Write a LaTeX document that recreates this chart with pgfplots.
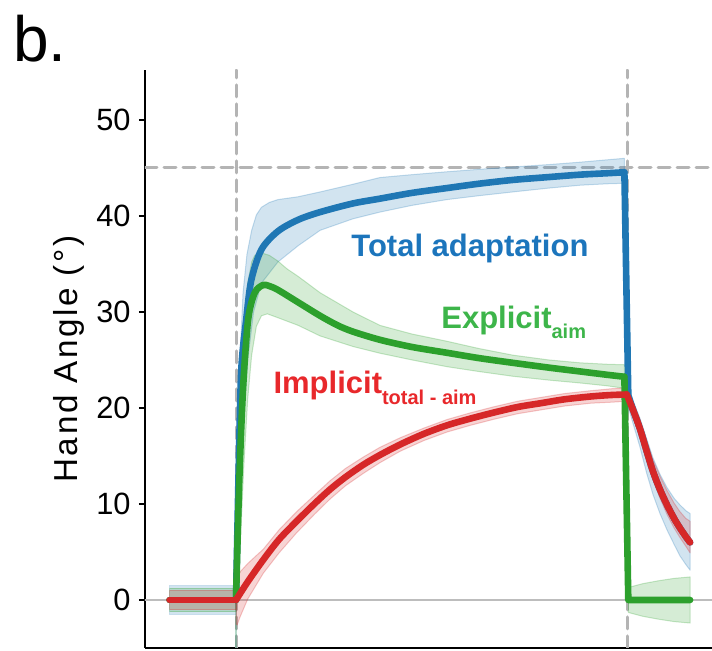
\documentclass[border=0pt]{standalone}
\usepackage{pgfplots}
\pgfplotsset{compat=1.18}
\usepackage{fontspec}
\setmainfont{Liberation Sans}
\definecolor{cblue}{HTML}{1F77B4}
\definecolor{cgreen}{HTML}{2CA02C}
\definecolor{cred}{HTML}{D62728}
\definecolor{tblue}{HTML}{1C75BC}
\definecolor{tgreen}{HTML}{3DB54A}
\definecolor{tred}{HTML}{E8282B}
\definecolor{dgray}{HTML}{B4B4B4}
\definecolor{zgray}{HTML}{BDBDBD}
\begin{document}
\begin{tikzpicture}
\begin{axis}[
  at={(72.5pt,1.5pt)}, anchor=south west,
  scale only axis, width=283.5pt, height=289pt,
  xmin=-23.27, xmax=121.7, ymin=-5, ymax=55.2,
  axis x line=bottom, axis y line=left,
  axis line style={-, line width=1.25pt, black},
  xtick=\empty,
  ytick={0,10,20,30,40,50},
  tick align=outside, major tick length=3pt,
  every tick/.style={black, line width=0.75pt},
  tick label style={font=\fontsize{15.4}{18}\selectfont},
  /pgf/number format/assume math mode=true,
  yticklabel style={inner sep=0pt, xshift=-4pt},
  every axis y label/.style={at={(axis description cs:0,0.5)}, rotate=90, anchor=center, yshift=38pt},
  ylabel={\addfontfeature{LetterSpace=8}Hand Angle (°)},
  ylabel style={font=\fontsize{16.6}{19}\selectfont},
  clip=true,
]
% reference lines
\addplot[zgray, line width=1.4pt] coordinates {(-23.27,0) (121.7,0)};
\addplot[dgray, line width=1.5pt, dash pattern=on 6pt off 3.5pt] coordinates {(0,-5) (0,55.2)};
\addplot[dgray, line width=1.5pt, dash pattern=on 6pt off 3.5pt] coordinates {(100,-5) (100,55.2)};
\addplot[dgray, line width=1.5pt, dash pattern=on 6pt off 3.5pt] coordinates {(-23.27,45) (121.7,45)};

% ---- bands: total (blue)
\addplot[fill=cblue, fill opacity=0.2, draw=cblue, draw opacity=0.25, line width=0.5pt] coordinates {
(-17,1.5) (0,1.5) (0,-1.5) (-17,-1.5)} -- cycle;
\addplot[fill=cblue, fill opacity=0.2, draw=cblue, draw opacity=0.25, line width=0.5pt] coordinates {
(0,0) (0.5,14) (1,25) (1.8,32) (2.8,36) (4,38.5) (5.2,40.1) (6.5,40.9) (8.5,41.4) (10.7,41.7) (15.9,42.0) (21.5,42.5) (29.9,43.3) (36.8,44.0) (45,44.3) (53.9,44.6) (62,44.85) (70.8,45.1) (80,45.35) (88,45.6) (95,45.85) (99.3,46.0)
(99.3,43.4) (95,43.35) (88,43.2) (80,42.9) (70.8,42.5) (62,42.1) (53.9,41.7) (45,41.1) (36.8,40.4) (29.9,39.7) (21.5,38.5) (15.9,36.9) (10.7,35.2) (6.5,33) (4.5,30) (3,25) (2,19) (1,9) (0.4,3) (0,0)} -- cycle;
\addplot[fill=cblue, fill opacity=0.2, draw=cblue, draw opacity=0.25, line width=0.5pt] coordinates {
(100.3,22.3) (101.5,20.8) (103.3,18.9) (105,16.8) (106.6,14.8) (108.4,13.1) (110.2,11.7) (112,10.6) (113.5,9.9) (115,9.3) (116.1,9.0)
(116.1,3.1) (115,3.7) (113.5,4.6) (112,5.8) (110.2,7.3) (108.4,9.0) (106.6,11.0) (105,13.2) (103.3,15.9) (101.5,18.4) (100.3,20.1)} -- cycle;

% ---- bands: explicit (green)
\addplot[fill=cgreen, fill opacity=0.2, draw=cgreen, draw opacity=0.25, line width=0.5pt] coordinates {
(-17,1.2) (0,1.2) (0,-1.2) (-17,-1.2)} -- cycle;
\addplot[fill=cgreen!60!cblue, fill opacity=0.35, draw=none] coordinates {
(-0.2,0) (0.35,0) (0.35,-5.5) (-0.2,-5.5)} -- cycle;
\addplot[fill=cgreen, fill opacity=0.2, draw=cgreen, draw opacity=0.25, line width=0.5pt] coordinates {
(0,0) (0.6,12) (1.2,22) (2,29) (3,33) (4,35.2) (4.8,35.9) (6.9,36.1) (8.5,35.9) (10.7,35.3) (13,34.5) (15.9,33.7) (21.5,32.0) (29.9,30.0) (36.8,28.6) (45,27.7) (53.9,26.95) (62,26.2) (70.8,25.5) (80,25.0) (88,24.7) (95,24.55) (99.3,24.5)
(99.3,22.05) (95,22.3) (88,22.6) (80,22.9) (70.8,23.3) (62,23.8) (53.9,24.3) (45,25.0) (36.8,25.7) (29.9,26.4) (21.5,27.5) (15.9,28.6) (10.7,29.4) (8,29.8) (6.5,29.6) (5.2,28.5) (4,25.5) (3,21) (2,14) (1,5) (0,0)} -- cycle;
\addplot[fill=cgreen, fill opacity=0.2, draw=cgreen, draw opacity=0.25, line width=0.5pt] coordinates {
(100.3,1.3) (104,1.7) (108,2.0) (112,2.25) (116.1,2.4)
(116.1,-2.4) (112,-2.25) (108,-2.0) (104,-1.7) (100.3,-1.3)} -- cycle;

% ---- bands: implicit (red)
\addplot[fill=cred, fill opacity=0.2, draw=cred, draw opacity=0.25, line width=0.5pt] coordinates {
(-17,1.0) (0,1.0) (0,-1.0) (-17,-1.0)} -- cycle;
\addplot[fill=cred, fill opacity=0.2, draw=cred, draw opacity=0.25, line width=0.5pt] coordinates {
(0,0) (0.3,2.0) (1,2.9) (3,3.8) (7,5.3) (11,7.3) (15.5,9.2) (20,10.9) (24,12.4) (28,13.7) (32.6,14.9) (36.8,15.9) (42,16.9) (48,17.9) (54,18.8) (60,19.5) (65.7,20.1) (72,20.7) (78,21.1) (84,21.5) (90.8,21.8) (96,22.0) (99.9,22.1)
(101.5,20.6) (103.3,18.8) (105,16.6) (106.6,14.6) (108.4,12.9) (110.2,11.4) (112,10.1) (113.5,9.2) (115,8.5) (116.1,8.2)
(116.1,4.9) (115,5.6) (113.5,6.5) (112,7.5) (110.2,8.9) (108.4,10.6) (106.6,12.5) (105,14.7) (103.3,17.0) (101.5,19.1)
(99.9,20.7) (96,20.6) (90.8,20.5) (84,20.2) (78,19.8) (72,19.4) (65.7,18.8) (60,18.2) (54,17.5) (48,16.6) (42,15.5) (36.8,14.3) (32.6,13.2) (28,11.9) (24,10.5) (20,8.9) (15.5,7.0) (11,4.9) (7,2.8) (3,0.1) (1,-1.8) (0.3,-2.6) (0,-2.5)} -- cycle;

% ---- lines
\pgfplotsset{every axis plot/.append style={line cap=round, line join=round}}
% total (blue)
\addplot[cblue, line width=3.3pt] coordinates {(-17,0) (0,0)};
\addplot[cblue, line width=3.3pt, smooth, tension=0.5] coordinates {
(0,0) (0.7,14) (1.35,24) (2.6,29.2) (3.9,33.3) (6.5,36.5) (10.7,38.4) (15.9,39.6) (21.5,40.4) (29.9,41.3) (36.8,41.8) (45,42.4) (53.9,42.9) (62,43.35) (70.8,43.75) (80,44.05) (88,44.3) (95,44.45) (99.3,44.55)};
\addplot[cblue, line width=3.3pt] coordinates {(99.3,44.55) (100.3,21.3) (101.5,19.8)};
\addplot[cblue, line width=3.3pt, smooth, tension=0.5] coordinates {
(99.9,21.4) (101.5,19.8) (103.3,17.8) (105,15.5) (106.6,13.4) (108.4,11.5) (110.2,9.9) (112,8.5) (113.5,7.5) (115,6.6) (116.1,6.0)};
% explicit (green)
\addplot[cgreen, line width=3.3pt] coordinates {(-17,0) (0,0)};
\addplot[cgreen, line width=3.3pt, smooth, tension=0.5] coordinates {
(0,0) (0.8,12) (1.8,22) (3.1,29.2) (4.8,32) (6.9,32.8) (8.5,32.7) (10.7,32.3) (15.9,31.0) (21.5,29.6) (26,28.6) (29.9,27.95) (36.8,27.1) (45,26.35) (53.9,25.75) (62,25.2) (70.8,24.7) (80,24.2) (88,23.8) (95,23.45) (99.3,23.25)};
\addplot[cgreen, line width=3.3pt] coordinates {(99.3,23.25) (100.3,0) (116.1,0)};
% implicit (red)
\addplot[cred, line width=3.3pt] coordinates {(-17,0) (0,0)};
\addplot[cred, line width=3.3pt, smooth, tension=0.5] coordinates {
(0,0) (3,1.9) (7,4.2) (11,6.3) (15.5,8.2) (20,10.0) (24,11.5) (28,12.8) (32.6,14.1) (36.8,15.1) (42,16.2) (48,17.3) (54,18.2) (60,18.9) (65.7,19.5) (72,20.1) (78,20.5) (84,20.9) (90.8,21.2) (96,21.35) (99.9,21.4)};
\addplot[cred, line width=3.3pt, smooth, tension=0.5] coordinates {
(99.9,21.4) (101.5,19.8) (103.3,17.8) (105,15.5) (106.6,13.4) (108.4,11.5) (110.2,9.9) (112,8.5) (113.5,7.5) (115,6.6) (116.1,6.0)};

% ---- labels
\node[anchor=base, text=tblue, font=\fontsize{15.5}{18}\selectfont\bfseries, inner sep=0pt] at (axis cs:59.8,35.8) {Total adaptation};
\node[anchor=base west, text=tgreen, font=\fontsize{15.5}{18}\selectfont\bfseries, inner sep=0pt] at (axis cs:52.4,28.3) {Explicit\raisebox{-5pt}{\fontsize{10}{12}\selectfont aim}};
\node[anchor=base west, text=tred, font=\fontsize{15.5}{18}\selectfont\bfseries, inner sep=0pt] at (axis cs:9.5,21.5) {Implicit\raisebox{-5.5pt}{\fontsize{10}{12}\selectfont total - aim}};
\end{axis}
\node[anchor=base west, inner sep=0pt, font=\fontsize{32}{38}\selectfont] at (6.5pt,294.5pt) {b.};
\pgfresetboundingbox
\path (0,0) rectangle (356pt,325.5pt);
\end{tikzpicture}
\end{document}
